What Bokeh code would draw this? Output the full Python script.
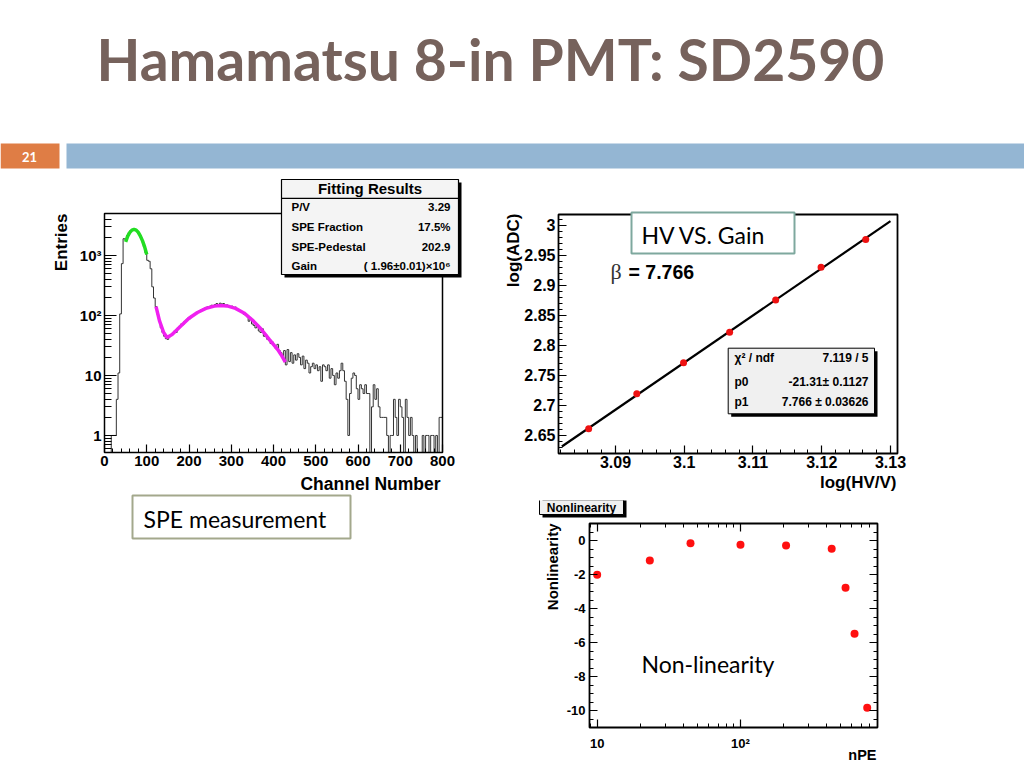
import math
import numpy as np
from bokeh.plotting import figure
from bokeh.layouts import row, column
from bokeh.models import (Label, BoxAnnotation, Range1d, FixedTicker,
                          LinearAxis, LogAxis, CustomJSTickFormatter)
from bokeh.core.properties import value
from bokeh.embed import file_html
from bokeh.resources import INLINE

# ---------------- data ----------------
TITLE = "Hamamatsu 8-in PMT: SD2590"
SLIDE_NO = "21"

BIN_WIDTH = 4  # channels per bin, 0..800
hist_counts = [
    0, 0, 0, 0, 1, 1, 1, 4, 11, 106,
    730, 1900, 1850, 2150, 2400, 2600, 2700, 2750, 2700, 2550,
    2300, 2000, 1700, 1400, 1100, 830, 800, 600, 300, 195,
    140, 105, 80, 62, 52, 45, 41, 40, 44, 47,
    50, 55, 52, 62, 66, 72, 70, 80, 84, 90,
    88, 98, 102, 106, 112, 116, 120, 125, 128, 132,
    137, 140, 142, 148, 145, 152, 158, 150, 160, 155,
    158, 148, 150, 145, 140, 143, 135, 138, 128, 122,
    118, 115, 105, 102, 95, 80, 90, 72, 68, 62,
    70, 55, 52, 60, 45, 48, 40, 38, 34, 36,
    31, 28, 33, 26, 24, 20, 26, 15, 27, 17,
    24, 16, 22, 18, 23, 20, 15, 21, 13, 18,
    16, 11, 14, 16, 13, 15, 12, 14, 8, 15,
    14, 12, 15, 9, 13, 10, 7, 11, 9, 12,
    16, 12, 8, 4, 1, 5, 9, 11, 10, 6,
    4, 7, 6, 5, 7, 5, 5, 0, 3, 7,
    4, 6, 3, 2, 2, 2, 2, 1, 0, 1,
    1, 4, 2, 1, 4, 3, 2, 0, 4, 2,
    1, 2, 1, 0, 1, 0, 0, 0, 1, 0,
    1, 1, 0, 1, 1, 0, 1, 0, 2, 2,
]
pedestal_fit_x = [50, 55, 60, 65, 70, 75, 80, 85, 90, 95, 100]
pedestal_fit_y = [1680, 2100, 2420, 2640, 2720, 2640, 2420, 2100, 1750, 1390, 1040]
spe_fit_x = [122, 130, 140, 148, 160, 180, 200, 220, 240, 260, 275, 290, 310, 330, 350, 370, 390, 410, 420, 428]
spe_fit_y = [140, 82, 52, 43, 48, 66, 90, 112, 131, 143, 147, 144, 131, 110, 84, 60, 40, 27, 21, 16.7]
fit_labels = ["P/V", "SPE Fraction", "SPE-Pedestal", "Gain"]
fit_values = ["3.29", "17.5%", "202.9", "( 1.96\u00b10.01)\u00d710\u2076"]

log_hv = [3.0861, 3.0931, 3.0999, 3.1066, 3.1133, 3.1199, 3.1264]
log_adc = [2.6612, 2.7195, 2.7712, 2.8222, 2.8760, 2.9305, 2.9767]
hv_fit_x = [3.0822, 3.1300]
hv_fit_y = [2.6317, 3.0072]
stat_labels = ["\u03c7\u00b2 / ndf", "p0", "p1"]
stat_values = ["7.119 / 5", "-21.31\u00b1 0.1127", "7.766 \u00b1 0.03626"]
beta_value = "7.766"

npe = [10, 23.3, 44.8, 100, 208, 433, 541, 625, 766]
nonlinearity = [-2.02, -1.18, -0.16, -0.25, -0.29, -0.49, -2.78, -5.49, -9.84]

# ---------------- helpers ----------------
FONT = "Liberation Sans"
SLIDE_FONT = "Lato"


def new_fig(w, h, xr, yr, **kw):
    p = figure(width=w, height=h, x_range=xr, y_range=yr, toolbar_location=None,
               output_backend="svg", min_border=0, **kw)
    p.grid.visible = False
    p.outline_line_color = None
    p.background_fill_color = "white"
    p.border_fill_color = "white"
    return p


def style_axis(ax, major_in, minor_in, size, standoff):
    ax.major_tick_in = major_in
    ax.major_tick_out = 0
    ax.minor_tick_in = minor_in
    ax.minor_tick_out = 0
    ax.axis_line_color = None
    ax.major_tick_line_color = "black"
    ax.major_tick_line_width = 1.2
    ax.minor_tick_line_color = "black"
    ax.minor_tick_line_width = 1.0
    ax.major_label_text_font = FONT
    ax.major_label_text_font_style = "bold"
    ax.major_label_text_font_size = size
    ax.major_label_text_color = "black"
    ax.major_label_standoff = standoff


def lab(p, X, Y, px, py, text, size, align="left", style="bold",
        font=FONT, color="black", angle=0.0):
    p.add_layout(Label(x=X(px), y=Y(py), text=text, text_font=font,
                       text_font_size=f"{size}px", text_font_style=style,
                       text_color=color, text_align=align, text_baseline="middle",
                       angle=angle))


def box(p, X, Y, l, t, r, b, fill, line, lw=1.0):
    p.add_layout(BoxAnnotation(left=X(l), right=X(r), top=Y(t), bottom=Y(b),
                               fill_color=fill, fill_alpha=1.0 if fill else 0.0,
                               line_color=line, line_width=lw, line_alpha=1.0))


# ---------------- header ----------------
hdr = figure(width=1024, height=175, x_range=Range1d(0, 1024), y_range=Range1d(175, 0),
             toolbar_location=None, output_backend="svg", min_border=0,
             x_axis_location=None, y_axis_location=None)
hdr.grid.visible = False
hdr.outline_line_color = None
hdr.quad(left=[0], right=[59], top=[143], bottom=[168], fill_color="#DF7D45", line_color=None)
hdr.quad(left=[66], right=[1024], top=[143], bottom=[168], fill_color="#94B6D3", line_color=None)
hdr.text(x=[29], y=[156], text=[SLIDE_NO], text_font=value(SLIDE_FONT), text_font_style="bold",
         text_font_size="13px", text_color="white", text_align="center", text_baseline="middle")
hdr.text(x=[96], y=[58], text=[TITLE], text_font=value(SLIDE_FONT), text_font_style="bold",
         text_font_size="57px", text_color="#76625C", text_align="left",
         text_baseline="middle")

# ---------------- SPE histogram (canvas: x 0..490, y 175..545) ----------------
HY0, HY1 = 0.52, 5000.0


def hx(px):
    return (px - 104) / 338 * 800


def hy(py):
    a, b = math.log10(HY0), math.log10(HY1)
    return 10 ** (a + (452 - py) / 239 * (b - a))


p1 = new_fig(490, 370, Range1d(hx(0), hx(490)), Range1d(hy(545), hy(175)), y_axis_type="log")
p1.xaxis.ticker = FixedTicker(ticks=list(range(0, 801, 100)), minor_ticks=list(range(0, 801, 20)))
p1.yaxis.ticker = FixedTicker(
    ticks=[1, 10, 100, 1000],
    minor_ticks=[k * 10 ** e for e in range(-1, 4) for k in range(1, 10) if HY0 <= k * 10 ** e <= HY1])
p1.yaxis.formatter = CustomJSTickFormatter(code="""
const e = Math.round(Math.log10(tick));
if (e == 0) return "1";
if (e == 1) return "10";
return "10" + "\u2070\u00b9\u00b2\u00b3\u2074\u2075\u2076"[e];
""")
p1.xaxis.fixed_location = HY0
p1.yaxis.fixed_location = 0
style_axis(p1.xaxis[0], 8, 4, "15px", 3)
style_axis(p1.yaxis[0], 12, 7, "15px", 3)

edges = [i * BIN_WIDTH for i in range(len(hist_counts) + 1)]
drawn = [c if c > 0 else HY0 for c in hist_counts]
p1.step(x=edges, y=drawn + [drawn[-1]], mode="after", line_color="#333333", line_width=1.0)
p1.line(pedestal_fit_x, pedestal_fit_y, line_color="#22DD22", line_width=3.5)
p1.line(spe_fit_x, spe_fit_y, line_color="#F020F0", line_width=3.5)

box(p1, hx, hy, 104, 213, 442, 452, None, "black", 1.5)          # frame
box(p1, hx, hy, 284, 182, 461, 277, "black", None)               # shadow
box(p1, hx, hy, 281, 179, 458, 274, "#F4F4F4", "black", 1.2)
box(p1, hx, hy, 281, 197.2, 458, 198.4, "black", None)
lab(p1, hx, hy, 369.5, 187.5, "Fitting Results", 15, align="center")
for i, (t, v) in enumerate(zip(fit_labels, fit_values)):
    yy = [206.7, 226.7, 246, 265.7][i]
    lab(p1, hx, hy, 291, yy, t, 11.5)
    lab(p1, hx, hy, 450, yy, v, 11.5, align="right")
lab(p1, hx, hy, 61, 213, "Entries", 17, align="right", angle=math.pi / 2)
lab(p1, hx, hy, 440, 483, "Channel Number", 17.5, align="right")
box(p1, hx, hy, 132, 495, 350, 538, "white", "#A3A88C", 2)
lab(p1, hx, hy, 143, 518, "SPE measurement", 23, style="normal", font=SLIDE_FONT)

# ---------------- HV vs gain (canvas: x 490..1024, y 175..500) ----------------
VX0, VX1 = 3.08171, 3.13102
VY0, VY1 = 2.62, 3.01833


def vx(px):
    return VX0 + (px - 558) / 339 * (VX1 - VX0)


def vy(py):
    return VY0 + (453 - py) / 239 * (VY1 - VY0)


p2 = new_fig(534, 325, Range1d(vx(490), vx(1024)), Range1d(vy(500), vy(175)))
p2.xaxis.ticker = FixedTicker(ticks=[3.09, 3.10, 3.11, 3.12, 3.13],
                              minor_ticks=[round(v, 3) for v in np.arange(3.082, 3.1305, 0.002)])
p2.yaxis.ticker = FixedTicker(ticks=[round(v, 2) for v in np.arange(2.65, 3.001, 0.05)],
                              minor_ticks=[round(v, 2) for v in np.arange(2.62, 3.015, 0.01)])
p2.xaxis.formatter = CustomJSTickFormatter(code="return String(Math.round(tick*1000)/1000);")
p2.yaxis.formatter = CustomJSTickFormatter(code="return String(Math.round(tick*1000)/1000);")
p2.xaxis.fixed_location = VY0
p2.yaxis.fixed_location = VX0
style_axis(p2.xaxis[0], 8, 4, "16px", 2)
style_axis(p2.yaxis[0], 8, 4, "16px", 3)

p2.line(hv_fit_x, hv_fit_y, line_color="black", line_width=2.2)
p2.scatter(log_hv, log_adc, size=7, fill_color="#EE1111", line_color=None)

box(p2, vx, vy, 558, 214, 897, 453, None, "black", 1.8)         # frame
box(p2, vx, vy, 631, 212, 794, 253, "white", "#7EA89E", 2)
lab(p2, vx, vy, 641, 234, "HV VS. Gain", 23, style="normal", font=SLIDE_FONT)
lab(p2, vx, vy, 610, 271, "\u03b2", 22, style="normal", font="Liberation Serif", color="#333333")
lab(p2, vx, vy, 628, 271, "=  " + beta_value, 19.5)
box(p2, vx, vy, 730.7, 350.7, 877, 416.3, "black", None)
box(p2, vx, vy, 727.7, 347.7, 874, 413.3, "#F0F0F0", "black", 1.0)
for i, (t, v) in enumerate(zip(stat_labels, stat_values)):
    yy = [357, 381, 401.7][i]
    lab(p2, vx, vy, 734, yy, t, 12)
    lab(p2, vx, vy, 868, yy, v, 12, align="right")
lab(p2, vx, vy, 513, 213, "log(ADC)", 17, align="right", angle=math.pi / 2)
lab(p2, vx, vy, 896, 482, "log(HV/V)", 17, align="right")

# ---------------- Nonlinearity (canvas: x 490..1024, y 500..766) ----------------
NX0, NX1 = 8.84, 903.9
NY0, NY1 = -11.0, 1.0


def nx(px):
    a, b = math.log10(NX0), math.log10(NX1)
    return 10 ** (a + (px - 589) / 288 * (b - a))


def ny(py):
    return NY1 - (py - 523) / 204 * (NY1 - NY0)


p3 = new_fig(534, 266, Range1d(nx(490), nx(1024)), Range1d(ny(766), ny(500)), x_axis_type="log")
x_major = [10, 100]
x_minor = [k * 10 ** e for e in range(0, 3) for k in range(1, 10) if NX0 <= k * 10 ** e <= NX1]
y_major = [0, -2, -4, -6, -8, -10]
y_minor = [v * 0.5 for v in range(-22, 3)]
p3.xaxis.ticker = FixedTicker(ticks=x_major, minor_ticks=x_minor)
p3.yaxis.ticker = FixedTicker(ticks=y_major, minor_ticks=y_minor)
p3.xaxis.formatter = CustomJSTickFormatter(code="""
const e = Math.round(Math.log10(tick));
if (e == 1) return "10";
return "10" + "\u2070\u00b9\u00b2\u00b3\u2074"[e];
""")
p3.yaxis.formatter = CustomJSTickFormatter(code="return String(Math.round(tick));")
p3.xaxis.fixed_location = NY0
p3.yaxis.fixed_location = NX0
style_axis(p3.xaxis[0], 8, 4, "13px", 8)
style_axis(p3.yaxis[0], 8, 4, "13px", 4)
top_ax = LogAxis(ticker=FixedTicker(ticks=x_major, minor_ticks=x_minor), fixed_location=NY1)
right_ax = LinearAxis(ticker=FixedTicker(ticks=y_major, minor_ticks=y_minor), fixed_location=NX1)
for ax in (top_ax, right_ax):
    style_axis(ax, 8, 4, "0px", 0)
    ax.major_label_text_alpha = 0
p3.add_layout(top_ax, "above")
p3.add_layout(right_ax, "right")

p3.scatter(npe, nonlinearity, size=8, fill_color="#FF1010", line_color=None)

box(p3, nx, ny, 589, 523, 877, 727, None, "black", 1.8)         # frame
box(p3, nx, ny, 542, 470, 626, 517, "black", None)
box(p3, nx, ny, 539, 470, 623, 514, "#F0F0F0", "black", 1.0)
lab(p3, nx, ny, 581, 507.5, "Nonlinearity", 12, align="center")
lab(p3, nx, ny, 551.5, 523, "Nonlinearity", 15, align="right", angle=math.pi / 2)
lab(p3, nx, ny, 876, 754, "nPE", 14.5, align="right")
lab(p3, nx, ny, 641, 663, "Non-linearity", 23, style="normal", font=SLIDE_FONT)

# ---------------- layout ----------------
page = column(hdr, row(p1, column(p2, p3)))
open("out.html", "w").write(file_html(page, INLINE))
